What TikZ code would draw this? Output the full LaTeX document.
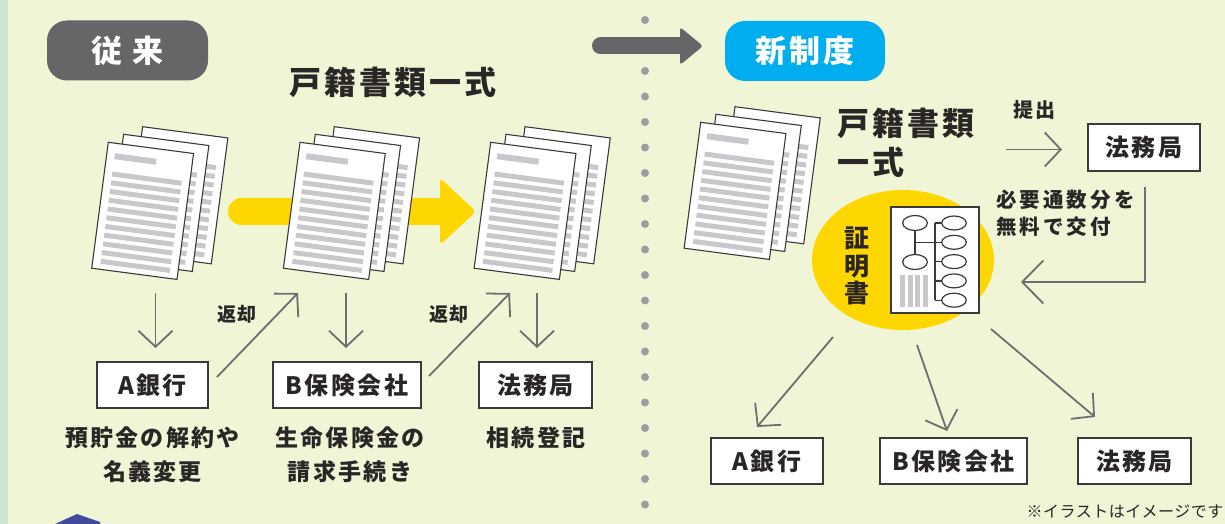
\documentclass[tikz,border=0pt]{standalone}
\usepackage{fontspec}
\setmainfont{Noto Sans CJK JP}[LetterSpace=10]
\newfontfamily\notefont{Noto Sans CJK JP}[LetterSpace=3]
\usetikzlibrary{arrows.meta}

\definecolor{bgcol}{HTML}{F0F5D6}
\definecolor{stripcol}{HTML}{CBE6D5}
\definecolor{navycol}{HTML}{414A9B}
\definecolor{badgegray}{HTML}{676568}
\definecolor{cyancol}{HTML}{00AEEF}
\definecolor{yelcol}{HTML}{FFD700}
\definecolor{ink}{HTML}{2A2626}
\definecolor{arrowgray}{HTML}{6E6E6E}
\definecolor{barcol}{HTML}{C9C7CC}
\definecolor{dotgray}{HTML}{9D9D9D}
\definecolor{edgecol}{HTML}{3A3A3A}

\tikzset{
  docpage/.pic={
    \filldraw[fill=white, draw=edgecol, line width=1.1pt] (0,0) rectangle (86,127);
    \fill[barcol] (8,10) rectangle (50,16);
    \foreach \k in {0,...,10}
      \fill[barcol] (8,{28.5+8.8*\k}) rectangle (78,{33.5+8.8*\k});
  },
  docstack/.pic={
    \pic[rotate=-7.5] at (34.3,-15.6) {docpage};
    \pic[rotate=-7.5] at (15.3,-8) {docpage};
    \pic[rotate=-7.5] at (0,0) {docpage};
  },
  badge/.style={rounded corners=20pt, text=white, inner sep=0pt,
    minimum height=60pt, font=\bfseries\fontsize{31}{31}\selectfont},
  headtext/.style={text=ink, inner sep=0pt, align=left,
    font=\bfseries\fontsize{32}{39}\selectfont},
  officebox/.style={draw=edgecol, line width=1.5pt, fill=white, text=ink,
    inner sep=0pt, minimum height=46pt, font=\bfseries\fontsize{24}{24}\selectfont},
  desc/.style={text=ink, inner sep=0pt, align=center,
    font=\bfseries\fontsize{23}{34}\selectfont},
  smalltext/.style={text=ink, inner sep=0pt, align=left,
    font=\bfseries\fontsize{19}{27}\selectfont},
  flow/.style={draw=arrowgray, line width=1.8pt,
    -{Straight Barb[length=16pt,width=34pt]}},
  bigflow/.style={draw=arrowgray, line width=1.8pt,
    -{Straight Barb[length=21pt,width=43pt]}},
  treeline/.style={draw=edgecol, line width=1.2pt},
}

\begin{document}
\begin{tikzpicture}[x=1pt, y=-1pt]
\useasboundingbox (0,0) rectangle (1225,524);
\fill[bgcol] (0,0) rectangle (1225,524);
\fill[stripcol] (0,0) rectangle (8,524);
\fill[navycol] (55,524) -- (77,514) -- (100,522) -- (100,524) -- cycle;

% dotted divider between the two halves
\foreach \k in {0,...,19}
  \fill[dotgray] (645,{20+25.5*\k}) circle[radius=4];

% heavy arrow from old to new
\draw[badgegray, line width=17pt, line cap=round] (600.5,46) -- (684,46);
\fill[badgegray, rounded corners=3pt] (680,27) -- (703,46) -- (680,65) -- cycle;

% tags
\node[badge, fill=badgegray, minimum width=161pt] (oldtag) at (127.5,50.5) {従\hspace{10pt}来};
\node[badge, fill=cyancol, minimum width=160pt] (newtag) at (805,51) {新制度};

% ---------- old procedure ----------
\node[headtext] (oldtitle) at (393,82) {戸籍書類一式};

% yellow arrow passing the papers along
\draw[yelcol, line width=27pt, line cap=round] (241.5,211.5) -- (445,211.5);
\fill[yelcol, rounded corners=4pt] (440,178) -- (476,211.5) -- (440,245) -- cycle;

\pic at (108.3,142.3) {docstack};
\pic at (300,142.3) {docstack};
\pic at (490.7,142.3) {docstack};

\node[officebox, minimum width=111pt] (bankA) at (152.5,385) {A銀行};
\node[officebox, minimum width=148pt] (insB) at (347,385) {B保険会社};
\node[officebox, minimum width=113pt] (bureau) at (535.5,385) {法務局};

\coordinate (d1s) at (155.5,293); \coordinate (d1e) at (155.5,348);
\coordinate (d2s) at (346,293);   \coordinate (d2e) at (346,348);
\coordinate (d3s) at (537,293);   \coordinate (d3e) at (537,348);
\draw[flow] (d1s) -- (d1e);
\draw[flow] (d2s) -- (d2e);
\draw[flow] (d3s) -- (d3e);

\coordinate (r1s) at (217,377); \coordinate (r1e) at (298,293);
\coordinate (r2s) at (429,376); \coordinate (r2e) at (510,293);
\draw[flow] (r1s) -- (r1e);
\draw[flow] (r2s) -- (r2e);
\node[smalltext] (ret1) at (237,314) {返却};
\node[smalltext] (ret2) at (449,314) {返却};

\node[desc] (descA) at (152.5,455) {預貯金の解約や\\名義変更};
\node[desc] (descB) at (350,455) {生命保険金の\\請求手続き};
\node[desc] (descC) at (536,438) {相続登記};

% ---------- new procedure ----------
\pic at (700.7,122.3) {docstack};
\node[headtext, anchor=west] (newtitle) at (837,142.5) {戸籍書類\\一式};

\node[smalltext, font=\bfseries\fontsize{20}{27}\selectfont] (submit) at (1034,110) {提出};
\node[officebox, minimum width=112pt, minimum height=47pt] (bureauR) at (1144,147.5) {法務局};
\coordinate (s1) at (1006,149.5); \coordinate (s2) at (1062,149.5);
\draw[flow] (s1) -- (s2);

\node[smalltext, anchor=west, font=\bfseries\fontsize{20.5}{27}\selectfont\addfontfeatures{LetterSpace=15}] (issue) at (996,213.5) {必要通数分を\\無料で交付};
\coordinate (b1) at (1145,187); \coordinate (b2) at (1021,282);
\draw[bigflow] (b1) |- (b2);

% certificate on a yellow disc
\fill[yelcol] (903,260) ellipse[x radius=91, y radius=70];
\node[text=ink, inner sep=0pt, align=center, font=\bfseries\fontsize{25}{27.5}\selectfont] (certword) at (857,266) {証\\明\\書};
\filldraw[fill=white, draw=edgecol, line width=1.2pt] (891,207) rectangle (979,313);
\foreach \yy in {223,262}
  \draw[treeline] (915,\yy) ellipse[x radius=12.3, y radius=7.5];
\foreach \yy in {223,242.3,261.6,280.9,300.2} {
  \draw[treeline] (954,\yy) ellipse[x radius=12.3, y radius=7];
  \draw[treeline] (935,\yy) -- (941.7,\yy);
}
\draw[treeline] (915,230.5) -- (915,254.5);
\draw[treeline] (915,242.3) -- (935,242.3);
\draw[treeline] (935,223) -- (935,300.2);
\foreach \xx in {900,907.7,915.4,923}
  \fill[barcol] (\xx,275) rectangle ++(5,31.7);

\node[officebox, minimum width=112pt] (bankA2) at (767,461) {A銀行};
\node[officebox, minimum width=147pt] (insB2) at (953.5,461) {B保険会社};
\node[officebox, minimum width=113pt] (bureau2) at (1134.5,461) {法務局};

\coordinate (f1s) at (833,337); \coordinate (f1e) at (757,427);
\coordinate (f2s) at (917,345); \coordinate (f2e) at (947,431);
\coordinate (f3s) at (991,329); \coordinate (f3e) at (1095,417);
\draw[flow] (f1s) -- (f1e);
\draw[flow] (f2s) -- (f2e);
\draw[flow] (f3s) -- (f3e);

\node[text=ink, inner sep=0pt, font=\notefont\fontsize{16}{16}\selectfont] (remark) at (1125,512) {※イラストはイメージです};
\end{tikzpicture}
\end{document}
